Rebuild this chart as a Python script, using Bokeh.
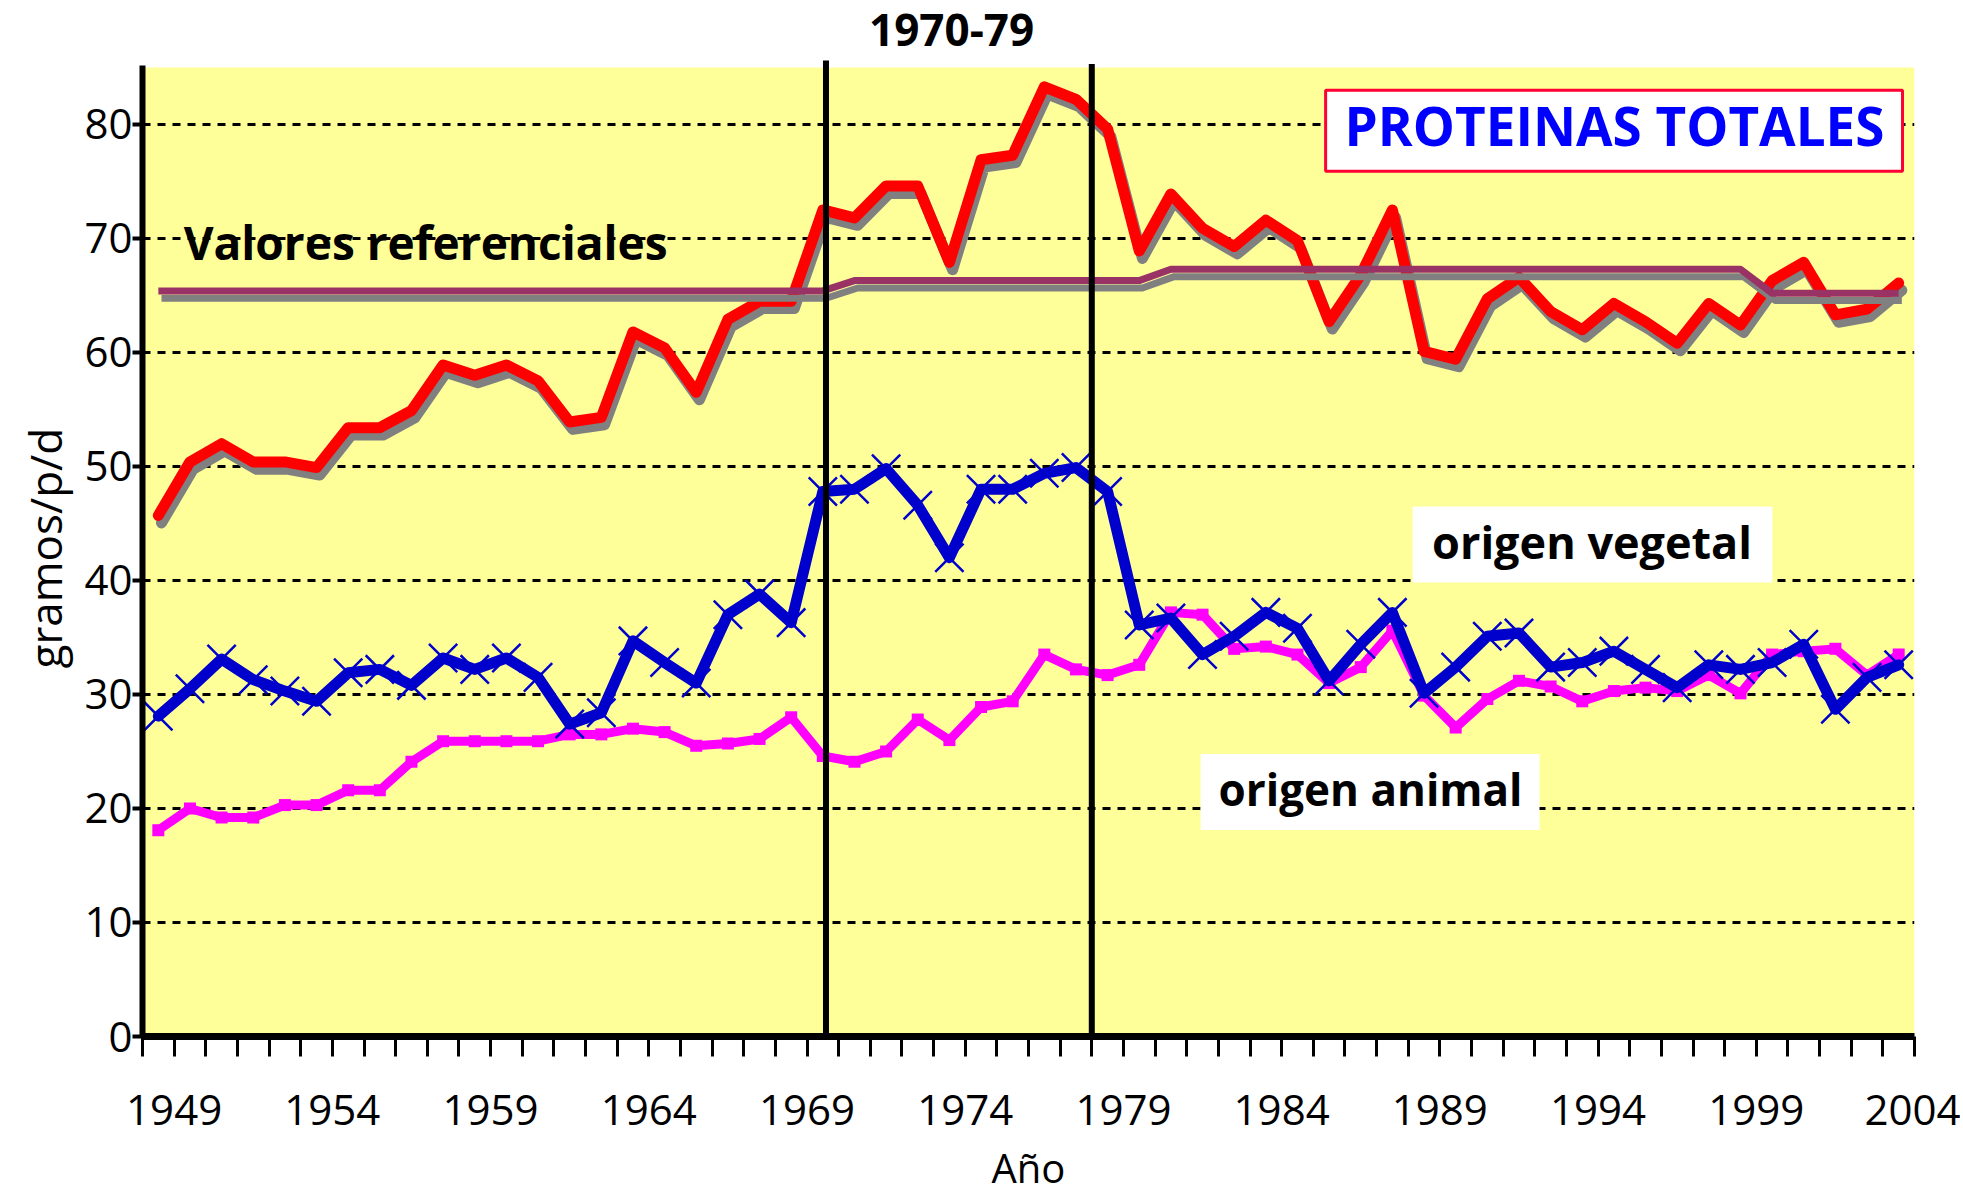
from bokeh.plotting import figure
from bokeh.models import FixedTicker, Label, BoxAnnotation, Range1d, Title
from bokeh.embed import file_html
from bokeh.resources import INLINE

# ---------------- data ----------------
years = list(range(1949, 2005))

total = [45.7, 50.4, 52.0, 50.4, 50.4, 49.9, 53.4, 53.4, 54.9, 58.9,
         58.0, 58.9, 57.5, 53.9, 54.3, 61.8, 60.4, 56.5, 62.9, 64.5,
         64.5, 72.5, 71.8, 74.6, 74.6, 67.9, 76.9, 77.3, 83.3, 82.2,
         79.6, 68.9, 73.9, 70.9, 69.3, 71.6, 69.8, 62.7, 66.8, 72.5,
         60.1, 59.4, 64.7, 66.6, 63.6, 62.0, 64.3, 62.7, 60.8, 64.3,
         62.4, 66.3, 67.9, 63.3, 63.8, 66.1]

vegetal = [28.1, 30.5, 33.1, 31.3, 30.3, 29.4, 31.9, 32.2, 30.8, 33.2,
           32.2, 33.2, 31.5, 27.4, 28.4, 34.7, 32.8, 31.0, 37.0, 38.8,
           36.3, 47.8, 48.0, 49.8, 46.6, 42.0, 48.0, 48.0, 49.4, 49.9,
           47.8, 36.1, 36.7, 33.5, 35.1, 37.2, 35.8, 31.2, 34.4, 37.2,
           30.1, 32.4, 35.1, 35.4, 32.4, 32.8, 33.8, 32.2, 30.6, 32.6,
           32.2, 32.8, 34.4, 28.7, 31.5, 32.6]

animal = [18.1, 20.0, 19.2, 19.2, 20.3, 20.3, 21.6, 21.6, 24.1, 25.9,
          25.9, 25.9, 25.9, 26.5, 26.5, 27.0, 26.7, 25.5, 25.7, 26.1,
          28.0, 24.6, 24.1, 25.0, 27.8, 26.0, 28.9, 29.4, 33.5, 32.2,
          31.7, 32.6, 37.2, 37.0, 34.0, 34.2, 33.5, 31.0, 32.4, 35.6,
          29.9, 27.1, 29.6, 31.2, 30.7, 29.4, 30.3, 30.6, 30.3, 31.7,
          30.1, 33.5, 33.8, 34.0, 31.7, 33.5]

referencia = [65.4, 65.4, 65.4, 65.4, 65.4, 65.4, 65.4, 65.4, 65.4, 65.4,
              65.4, 65.4, 65.4, 65.4, 65.4, 65.4, 65.4, 65.4, 65.4, 65.4,
              65.4, 65.4, 66.3, 66.3, 66.3, 66.3, 66.3, 66.3, 66.3, 66.3,
              66.3, 66.3, 67.3, 67.3, 67.3, 67.3, 67.3, 67.3, 67.3, 67.3,
              67.3, 67.3, 67.3, 67.3, 67.3, 67.3, 67.3, 67.3, 67.3, 67.3,
              67.3, 65.2, 65.2, 65.2, 65.2, 65.2]

y_ticks = [0, 10, 20, 30, 40, 50, 60, 70, 80]
x_label_years = [1949, 1954, 1959, 1964, 1969, 1974, 1979, 1984, 1989, 1994, 1999, 2004]
period_lines = [1970.1, 1978.5]
period_line_tops = [85.6, 85.3]

# ---------------- styling constants ----------------
FONT = "Open Sans"
SHADOW_DX = 0.1
SHADOW_DY = -0.65
Y_TOP = 85            # top of the yellow plotting area
Y_CANVAS_TOP = 90.87  # value reached at the very top of the canvas

x_lo = years[0] - 0.5
x_hi = years[-1] + 0.5

p = figure(width=1960, height=1197, title=None,
           x_range=Range1d(x_lo, x_hi),
           y_range=Range1d(0, Y_CANVAS_TOP),
           output_backend="svg", toolbar_location=None,
           min_border_left=142, min_border_right=46,
           min_border_top=0, min_border_bottom=159)

p.background_fill_color = "white"
p.border_fill_color = "white"
p.outline_line_color = None

# yellow plotting area (0 .. 85), drawn beneath the grid
p.quad(left=[x_lo], right=[x_hi], bottom=[0], top=[Y_TOP],
       fill_color="#FFFF99", line_color=None, level="image")

# grid
p.xgrid.visible = False
p.ygrid.ticker = FixedTicker(ticks=y_ticks)
p.ygrid.grid_line_color = "black"
p.ygrid.grid_line_width = 3
p.ygrid.grid_line_dash = "8 7"

# x axis: ticks at category boundaries
bounds = [y - 0.5 for y in years] + [x_hi]
overrides = {b: "" for b in bounds}
for yr in x_label_years:
    overrides[yr + 0.5] = str(yr)
xa = p.xaxis[0]
xa.ticker = FixedTicker(ticks=bounds)
xa.major_label_overrides = overrides
xa.major_tick_out = 20
xa.major_tick_in = 0
xa.major_tick_line_width = 3
xa.minor_tick_out = 0
xa.minor_tick_in = 0
xa.axis_line_width = 7
xa.major_label_text_font = FONT
xa.major_label_text_font_size = "42px"
xa.major_label_text_color = "black"
xa.major_label_standoff = 38
xa.axis_label = "Año"
xa.axis_label_text_font = FONT
xa.axis_label_text_font_size = "40px"
xa.axis_label_text_font_style = "normal"
xa.axis_label_text_color = "black"
xa.axis_label_standoff = 12

ya = p.yaxis[0]
ya.bounds = (0, Y_TOP + 0.2)
ya.ticker = FixedTicker(ticks=y_ticks)
ya.major_tick_out = 10
ya.major_tick_in = 0
ya.major_tick_line_width = 4
ya.minor_tick_out = 0
ya.minor_tick_in = 0
ya.axis_line_width = 6
ya.major_label_text_font = FONT
ya.major_label_text_font_size = "42px"
ya.major_label_text_color = "black"
ya.major_label_standoff = 0

# y-axis title, centred on the 0-85 plotting area (not on the taller frame)
p.add_layout(Title(text="gramos/p/d", align="left", offset=368, standoff=14,
                   text_font=FONT, text_font_size="44px", text_font_style="normal",
                   text_color="black"), "left")

# ---------------- series ----------------
p.line(years, animal, line_color="#FF00FF", line_width=9, line_join="round", line_cap="round")
p.scatter(years, animal, marker="square", size=12, fill_color="#FF00FF", line_color=None)

p.line(years, vegetal, line_color="#0000CC", line_width=11, line_join="round", line_cap="round")
p.scatter(years, vegetal, marker="x", size=40, line_color="#0000CC", line_width=2.5)

p.line([y + SHADOW_DX for y in years], [v + SHADOW_DY for v in total],
       line_color="#808080", line_width=11, line_join="round", line_cap="round")
p.line(years, total, line_color="#FF0000", line_width=11, line_join="round", line_cap="round")

p.line([y + SHADOW_DX for y in years], [v + SHADOW_DY for v in referencia],
       line_color="#808080", line_width=7, line_join="round")
p.line(years, referencia, line_color="#993366", line_width=7, line_join="round")

# ---------------- period lines (1970-79) ----------------
p.segment(x0=period_lines, y0=[0, 0], x1=period_lines, y1=period_line_tops,
          line_color="black", line_width=6, level="overlay")

# ---------------- annotations ----------------
p.add_layout(BoxAnnotation(left=1985.89, right=2004.12, bottom=75.9, top=82.99,
                           fill_color="white", fill_alpha=1.0,
                           line_color="#FF0033", line_width=3, line_alpha=1.0))
p.add_layout(BoxAnnotation(left=1988.64, right=2000.01, bottom=39.83, top=46.48,
                           fill_color="white", fill_alpha=1.0, line_color=None))
p.add_layout(BoxAnnotation(left=1981.94, right=1992.65, bottom=18.12, top=24.77,
                           fill_color="white", fill_alpha=1.0, line_color=None))

def add_text(x, y, text, size, color="black", style="bold", align="center"):
    p.add_layout(Label(x=x, y=y, text=text, text_font=FONT, text_font_size=size,
                       text_font_style=style, text_color=color, text_align=align,
                       text_baseline="alphabetic"))

add_text(1974.07, 88.24, "1970-79", "44px")
add_text(1995.02, 79.9, "PROTEINAS TOTALES", "53px", color="#0000FF")
add_text(1994.31, 43.46, "origen vegetal", "45px")
add_text(1987.31, 21.71, "origen animal", "44px")
add_text(1949.80, 69.67, "Valores referenciales", "46px", align="left")

open("out.html", "w").write(file_html(p, INLINE))
